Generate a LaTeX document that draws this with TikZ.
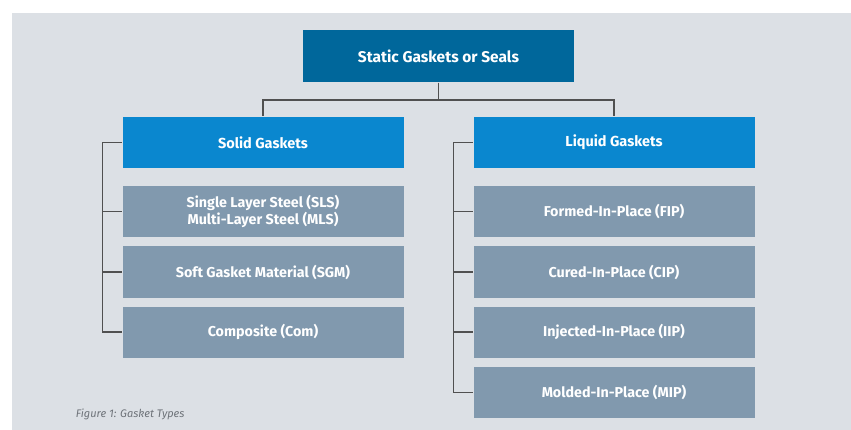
\documentclass[tikz,border=0pt]{standalone}
\usepackage{fontspec}
\setmainfont{Fira Sans}
\usepackage{xcolor}
\usepackage{tikz}
\usetikzlibrary{positioning}
\definecolor{bgcol}{HTML}{DCE0E5}
\definecolor{topcol}{HTML}{00679B}
\definecolor{midcol}{HTML}{0A87CF}
\definecolor{leafcol}{HTML}{8199AE}
\definecolor{linecol}{HTML}{505050}
\definecolor{capcol}{HTML}{6E7379}
\tikzset{
    topnode/.style = {rectangle, fill=topcol, text=white, align=center, font=\bfseries\fontsize{15.5}{19}\selectfont, minimum width=271pt, minimum height=52pt, inner sep=0pt, text depth=0pt},
    midnode/.style = {rectangle, fill=midcol, text=white, align=center, font=\bfseries\fontsize{14.5}{17}\selectfont, minimum width=281pt, minimum height=51pt, inner sep=0pt},
    leafnode/.style = {rectangle, fill=leafcol, text=white, align=center, font=\bfseries\fontsize{14.3}{16.5}\selectfont, minimum width=281pt, minimum height=51pt, inner sep=0pt},
}

\begin{document}
\begin{tikzpicture}[
	x=1pt, y=-1pt,
	line width=1.2pt
]
\tikzset{
    edgen/.style = {-, draw=linecol},
}
\useasboundingbox (0,0) rectangle (851,430);
\fill[bgcol] (12,13) rectangle (851,430);
\node[topnode] at (438.5,56) (top) {Static Gaskets or Seals};
\node[midnode] at (263,142.5) (solid) {Solid Gaskets};
\node[midnode] at (614,142.5) (liquid) {Liquid Gaskets};
%
\node[leafnode] at (263,211.5) (sls) {Single Layer Steel (SLS)\\Multi-Layer Steel (MLS)};
\node[leafnode] at (263,272) (sgm) {Soft Gasket Material (SGM)};
\node[leafnode] at (263,332) (com) {Composite (Com)};
%
\node[leafnode] at (614,211.5) (fip) {Formed-In-Place (FIP)};
\node[leafnode] at (614,272) (cip) {Cured-In-Place (CIP)};
\node[leafnode] at (614,332) (iip) {Injected-In-Place (IIP)};
\node[leafnode] at (614,392.5) (mip) {Molded-In-Place (MIP)};
%
\node[anchor=base west, text=capcol, font=\itshape\fontsize{11}{13}\selectfont] at (72,417) (cap) {Figure 1: Gasket Types};
%
\draw[edgen] (top.south) -- ++(0,17.5) -| (solid.north);
\draw[edgen] (top.south) -- ++(0,17.5) -| (liquid.north);
%
\draw[edgen] (solid.west) -- ++(-19.5,0) |- (com.west);
\draw[edgen] (sls.west) -- ++(-19.5,0);
\draw[edgen] (sgm.west) -- ++(-19.5,0);
%
\draw[edgen] (liquid.west) -- ++(-19.5,0) |- (mip.west);
\draw[edgen] (fip.west) -- ++(-19.5,0);
\draw[edgen] (cip.west) -- ++(-19.5,0);
\draw[edgen] (iip.west) -- ++(-19.5,0);
\end{tikzpicture}
\end{document}
